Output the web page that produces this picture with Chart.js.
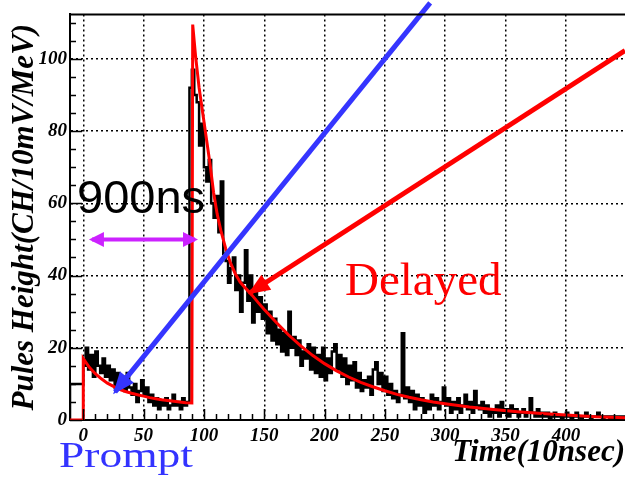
<!DOCTYPE html>
<html>
<head>
<meta charset="utf-8">
<script src="https://cdn.jsdelivr.net/npm/chart.js@4.4.1/dist/chart.umd.min.js"></script>
<style>
  html, body { margin: 0; padding: 0; background: #fff; }
  #wrap { width: 625px; height: 485px; position: relative; }
</style>
</head>
<body>
<div id="wrap"><canvas id="pulseChart"></canvas></div>
<script>
// histogram: counts per 2-unit bin, starting at t = 0
const BIN_WIDTH = 2;
const histCounts = [
  10, 15, 20, 14, 18, 12, 19, 15, 13, 17,
  12, 15, 11, 14, 9, 13, 10, 12, 8, 13,
  9, 7, 10, 5, 8, 11, 7, 9, 5, 7,
  4, 6, 3, 5, 4, 6, 3, 4, 7, 4,
  5, 3, 6, 4, 5,
  92, 97, 90, 88, 76, 82, 70, 66, 72, 60,
  56, 62, 52, 66, 46, 44, 38, 42, 45, 36,
  40, 30, 38, 47, 33, 40, 27, 36, 30, 34,
  28, 32, 24, 30, 22, 28, 21, 25, 19, 24,
  18, 30, 20, 23, 18, 22, 15, 19, 17, 21,
  14, 20, 13, 18, 12,
  20, 11, 17, 13, 19, 21, 14, 18, 12, 17,
  10, 15, 11, 16, 9, 13, 8, 11, 9, 12,
  7, 14, 16, 10, 13, 8, 12, 7, 10, 6,
  8, 5, 7, 24, 6, 9, 5, 8, 3, 7,
  4, 6, 2, 5, 3, 7, 4, 6, 3, 5,
  9, 4, 6, 2, 5, 3, 6, 2, 4, 7,
  3, 5, 2, 8, 4, 3, 5, 2, 4, 1,
  3, 2, 4, 1, 5, 2, 3, 1, 4, 2,
  3, 1, 2, 3, 1, 2, 6, 2, 1, 3,
  1, 2, 1, 2, 0, 1, 2, 1, 1, 0,
  1, 2, 1, 0, 1, 2, 1, 0, 1, 2,
  1, 0, 1, 1, 2, 1, 0, 1, 1, 0,
  1, 0, 1, 0, 1
];

// fitted curve (prompt + delayed)
const fitX = [-11, 0, 0, 5, 10, 15, 20, 25, 30, 35, 40, 45, 50, 55, 60, 65, 70, 75, 80, 85, 90,
  90.7, 93, 96, 99, 102, 105, 108, 111, 114, 118, 122, 126, 130, 135, 140, 145, 150, 160, 170,
  180, 190, 200, 210, 220, 230, 240, 250, 260, 270, 280, 290, 300, 320, 340, 360, 380, 400, 425, 449];
const fitY = [0, 0, 17, 14.6, 12.8, 11.4, 10.2, 9.3, 8.5, 7.9, 7.4, 7.0, 6.6, 6.2, 5.9, 5.6, 5.4, 5.2, 5.0, 4.8, 4.7,
  109.5, 101, 92, 85, 78, 71, 63, 57, 52.5, 47.5, 43.5, 40.5, 38.2, 36.3, 34.5, 32.5, 30.6, 27, 23.6,
  20.6, 17.9, 15.6, 13.6, 11.9, 10.4, 9.2, 8.1, 7.1, 6.3, 5.6, 5.0, 4.5, 3.6, 2.9, 2.3, 1.8, 1.4, 0.9, 0.6];

// annotation arrows (tip first)
const promptArrowX = [26.3, 287.5];
const promptArrowY = [7.8, 115.5];
const delayedArrowX = [138.5, 449];
const delayedArrowY = [35.3, 102.3];
const spanArrowX = [7.2, 92.6];
const spanArrowY = [50, 50];

const xTicks = [0, 50, 100, 150, 200, 250, 300, 350, 400];
const yTicks = [0, 20, 40, 60, 80, 100];

const xy = (xs, ys) => xs.map((x, i) => ({ x: x, y: ys[i] }));

const histPoints = [{ x: -11, y: 0 }]
  .concat(histCounts.map((c, i) => ({ x: i * BIN_WIDTH, y: c })))
  .concat([{ x: histCounts.length * BIN_WIDTH, y: histCounts[histCounts.length - 1] }]);

const SERIF = "'Liberation Serif', 'Times New Roman', serif";

const drawHead = (ctx, from, tip, color, len, wid) => {
  const ang = Math.atan2(tip.y - from.y, tip.x - from.x);
  const tx = tip.x + Math.cos(ang) * 3;
  const ty = tip.y + Math.sin(ang) * 3;
  ctx.save();
  ctx.translate(tx, ty);
  ctx.rotate(ang);
  ctx.fillStyle = color;
  ctx.beginPath();
  ctx.moveTo(0, 0);
  ctx.lineTo(-len, -wid / 2);
  ctx.lineTo(-len, wid / 2);
  ctx.closePath();
  ctx.fill();
  ctx.restore();
};

const extras = {
  id: 'extras',
  afterDatasetsDraw(chart) {
    const ctx = chart.ctx;
    chart.data.datasets.forEach((ds, i) => {
      if (!ds.heads) return;
      const pts = chart.getDatasetMeta(i).data;
      ds.heads.forEach(h => {
        if (h === 'start') {
          drawHead(ctx, pts[1], pts[0], ds.borderColor, ds.headLen, ds.headWidth);
        } else {
          drawHead(ctx, pts[pts.length - 2], pts[pts.length - 1], ds.borderColor, ds.headLen, ds.headWidth);
        }
      });
    });
  },
  afterDraw(chart) {
    const { ctx, chartArea: a, scales: { x, y } } = chart;
    ctx.save();
    ctx.strokeStyle = '#000';
    ctx.lineWidth = 2;
    // top frame
    ctx.beginPath();
    ctx.moveTo(a.left - 1, a.top);
    ctx.lineTo(a.right, a.top);
    ctx.stroke();
    // inner tick marks, ROOT style
    ctx.lineWidth = 1.5;
    ctx.beginPath();
    for (let v = 0; v <= y.max; v += 5) {
      const py = Math.round(y.getPixelForValue(v)) + 0.5;
      ctx.moveTo(a.left, py);
      ctx.lineTo(a.left + (v % 20 === 0 ? 12 : 6), py);
    }
    for (let v = 0; v <= x.max; v += 10) {
      const px = Math.round(x.getPixelForValue(v)) + 0.5;
      ctx.moveTo(px, a.bottom);
      ctx.lineTo(px, a.bottom - (v % 50 === 0 ? 11 : 6));
    }
    ctx.stroke();

    // labels
    ctx.textBaseline = 'alphabetic';
    ctx.textAlign = 'left';
    ctx.fillStyle = '#000';
    ctx.font = "47px 'Liberation Sans', Arial, sans-serif";
    ctx.fillText('900ns', 77, 213);

    ctx.fillStyle = '#ff0000';
    ctx.font = '47px ' + SERIF;
    ctx.fillText('Delayed', 345, 295);

    ctx.fillStyle = '#3333ff';
    ctx.font = '35px ' + SERIF;
    ctx.translate(59, 467);
    ctx.scale(1.3, 1);
    ctx.fillText('Prompt', 0, 0);
    ctx.restore();
  }
};

const tickFont = { family: SERIF, size: 19, style: 'italic', weight: 'bold' };
const titleFont = { family: SERIF, size: 31, style: 'italic', weight: 'bold' };
const gridStyle = { color: '#000', lineWidth: 1.5, drawTicks: false };

new Chart(document.getElementById('pulseChart').getContext('2d'), {
  type: 'line',
  data: {
    datasets: [
      {
        label: 'Prompt arrow',
        data: xy(promptArrowX, promptArrowY),
        borderColor: '#3535ff',
        borderWidth: 5,
        pointRadius: 0,
        clip: false,
        heads: ['start'],
        headLen: 22,
        headWidth: 18,
        order: 0
      },
      {
        label: 'Delayed arrow',
        data: xy(delayedArrowX, delayedArrowY),
        borderColor: '#ff0000',
        borderWidth: 5,
        pointRadius: 0,
        clip: false,
        heads: ['start'],
        headLen: 22,
        headWidth: 18,
        order: 1
      },
      {
        label: '900ns span',
        data: xy(spanArrowX, spanArrowY),
        borderColor: '#cc22ff',
        borderWidth: 4,
        pointRadius: 0,
        heads: ['start', 'end'],
        headLen: 15,
        headWidth: 15,
        order: 2
      },
      {
        label: 'Fit',
        data: xy(fitX, fitY),
        borderColor: '#ff0000',
        borderWidth: 3,
        pointRadius: 0,
        tension: 0,
        order: 3
      },
      {
        label: 'Data',
        data: histPoints,
        borderColor: '#000',
        borderWidth: 2.5,
        pointRadius: 0,
        stepped: 'after',
        order: 4
      }
    ]
  },
  options: {
    responsive: true,
    maintainAspectRatio: false,
    animation: false,
    layout: { padding: { top: 12, right: 0, left: 0, bottom: 0 } },
    plugins: {
      legend: { display: false },
      tooltip: { enabled: false }
    },
    scales: {
      x: {
        type: 'linear',
        min: -11,
        max: 449,
        afterBuildTicks: scale => { scale.ticks = xTicks.map(v => ({ value: v })); },
        afterFit: scale => { scale.height = 65; },
        grid: Object.assign({}, gridStyle),
        border: { display: true, color: '#000', width: 2, dash: [2, 3] },
        ticks: { color: '#000', font: tickFont, padding: 5, autoSkip: false, maxRotation: 0 },
        title: {
          display: true,
          text: 'Time(10nsec)',
          align: 'end',
          color: '#000',
          font: titleFont,
          padding: { top: 0, bottom: 13 }
        }
      },
      y: {
        type: 'linear',
        min: 0,
        max: 112.3,
        afterBuildTicks: scale => { scale.ticks = yTicks.map(v => ({ value: v })); },
        afterFit: scale => { scale.width = 70; },
        grid: Object.assign({}, gridStyle),
        border: { display: true, color: '#000', width: 2, dash: [2, 3] },
        ticks: { color: '#000', font: tickFont, padding: 3 },
        title: {
          display: true,
          text: 'Pules Height(CH/10mV/MeV)',
          color: '#000',
          font: titleFont,
          padding: { top: 6, bottom: 0 }
        }
      }
    }
  },
  plugins: [extras]
});
</script>
</body>
</html>
